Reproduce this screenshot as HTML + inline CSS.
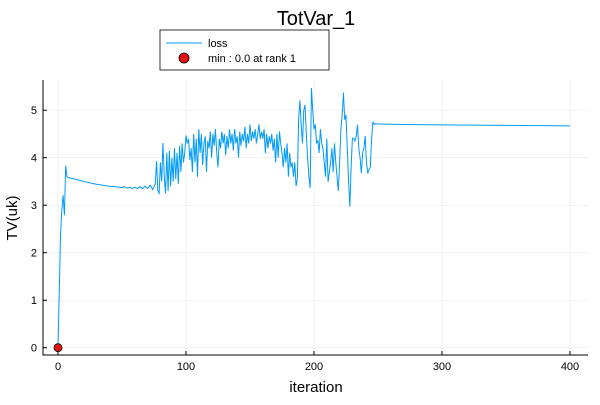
<!DOCTYPE html>
<html><head><meta charset="utf-8"><style>
body{margin:0;background:#fff}
svg{font-family:"Liberation Sans",sans-serif}
</style></head><body>
<svg id="chart" width="600" height="400" viewBox="0 0 600 400" xmlns="http://www.w3.org/2000/svg">
<rect width="600" height="400" fill="#fff"/>
<text x="316" y="25" font-size="20" text-anchor="middle" fill="#000">TotVar_1</text>
<g id="grid"></g>
<g id="axes"></g>
<path id="line" fill="none" stroke="#009af9" stroke-width="1"/>
<circle id="minpt" r="4" fill="#e90f0f" stroke="#000" stroke-width="0.8"/>
<text x="316" y="392" font-size="15" text-anchor="middle">iteration</text>
<text transform="translate(17,218) rotate(-90)" font-size="15" text-anchor="middle">TV(uk)</text>
<g>
<rect x="160" y="30" width="169" height="40" fill="#fff" stroke="#000" stroke-width="0.8"/>
<line x1="166" y1="43" x2="202" y2="43" stroke="#009af9" stroke-width="1"/>
<text x="208" y="47" font-size="11">loss</text>
<circle cx="184" cy="58" r="5" fill="#e90f0f" stroke="#000" stroke-width="0.8"/>
<text x="208" y="62" font-size="11">min : 0.0 at rank 1</text>
</g>
</svg>
<script>
const iters=[0,1,2,3,4,5,6,7,8,12,16,20,25,30,35,40,45,50,52,54,56,58,60,62,64,66,68,70,72,74,76,77,78,79,80,81,82,83,84,85,86,87,88,89,90,91,92,93,94,95,96,97,98,99,100,101,102,103,104,105,106,107,108,109,110,111,112,113,114,115,116,117,118,119,120,121,122,123,124,125,126,127,128,129,130,131,132,133,134,135,136,137,138,139,140,141,142,143,144,145,146,147,148,149,150,151,152,153,154,155,156,157,158,159,160,161,162,163,164,165,166,167,168,169,170,171,172,173,174,175,176,177,178,179,180,181,182,183,184,185,186,187,188,189,190,191,192,193,194,195,196,197,198,199,200,201,202,203,204,205,206,207,208,209,210,211,212,213,214,215,216,217,218,219,220,221,222,223,224,225,226,227,228,229,230,231,232,233,234,235,236,237,238,239,240,241,242,243,244,245,246,247,248,250,270,300,350,400];
const losses=[0,1.2,2.4,2.9,3.21,2.79,3.83,3.6,3.58,3.56,3.53,3.5,3.47,3.44,3.42,3.4,3.39,3.37,3.39,3.36,3.38,3.35,3.38,3.35,3.39,3.35,3.4,3.35,3.42,3.33,3.45,3.93,3.3,3.25,3.9,3.5,4.31,3.6,3.25,4.1,3.3,4.15,3.4,4.0,3.5,4.2,3.55,4.1,3.45,4.25,3.7,4.3,3.9,4.1,4.47,4.3,4.4,3.95,4.2,3.7,4.5,3.9,4.4,3.6,4.6,4.1,4.5,3.85,4.3,4.45,3.7,4.35,4.2,4.55,4.0,4.5,4.25,4.6,4.1,3.8,4.4,4.2,4.55,4.3,4.5,4.05,4.45,4.2,4.6,4.3,4.5,4.15,4.6,4.3,4.45,4.0,4.55,4.25,4.5,4.35,4.65,4.2,4.5,4.3,4.7,4.35,4.55,4.4,4.6,4.3,4.5,4.7,4.4,4.55,4.4,4.6,4.1,4.5,4.2,4.45,4.3,4.5,4.15,4.4,3.9,4.5,4.0,4.55,4.3,4.1,3.8,4.2,3.9,4.3,3.6,4.1,3.8,3.9,3.6,3.9,3.4,3.55,4.8,5.21,4.7,4.3,5.0,5.11,4.5,4.0,3.6,3.36,5.47,5.0,4.6,4.7,4.3,4.37,4.1,4.6,4.3,4.2,3.9,3.6,4.4,3.49,3.7,3.9,4.2,3.7,4.3,3.9,3.6,3.3,3.9,4.6,4.9,5.37,4.8,4.9,4.2,3.5,2.97,3.8,4.41,4.4,4.35,4.45,4.69,4.2,4.0,3.67,4.1,4.2,4.46,3.9,3.67,3.75,3.8,4.4,4.76,4.7,4.72,4.71,4.7,4.69,4.68,4.67];
const xTicks=[0,100,200,300,400];
const yTicks=[0,1,2,3,4,5];
const minIter=0, minVal=0;
const L=43,R=588,T=80,B=355;
const sx=v=>58+v*1.28;
const sy=v=>347.7-v*47.5;
const ns="http://www.w3.org/2000/svg";
const grid=document.getElementById('grid'), axes=document.getElementById('axes');
function mk(tag,attrs,parent){const e=document.createElementNS(ns,tag);for(const k in attrs)e.setAttribute(k,attrs[k]);parent.appendChild(e);return e;}
xTicks.forEach(t=>{
  const g=mk('line',{x1:sx(t),x2:sx(t),y1:T,y2:B,stroke:'#000','stroke-opacity':0.1,'stroke-width':0.5},grid);
  
  
  const tk=mk('line',{x1:sx(t),x2:sx(t),y1:B,y2:B-4,stroke:'#000','stroke-width':1},axes);
  
  
  const lb=mk('text',{x:sx(t),y:B+15,'font-size':11,'text-anchor':'middle'},axes);
  lb.textContent=t;
  
  
});
yTicks.forEach(t=>{
  const g=mk('line',{x1:L,x2:R,y1:sy(t),y2:sy(t),stroke:'#000','stroke-opacity':0.1,'stroke-width':0.5},grid);
  
  
  const tk=mk('line',{x1:L,x2:L+4,y1:sy(t),y2:sy(t),stroke:'#000','stroke-width':1},axes);
  
  
  const lb=mk('text',{x:L-6,y:sy(t)+4,'font-size':11,'text-anchor':'end'},axes);
  lb.textContent=t;
  
  
});
const ax=mk('path',{d:`M${L},${T}V${B}H${R}`,fill:'none',stroke:'#000','stroke-width':1},axes);


document.getElementById('line').setAttribute('d',iters.map((v,i)=>(i?'L':'M')+sx(v).toFixed(2)+','+sy(losses[i]).toFixed(2)).join(''));
const m=document.getElementById('minpt');m.setAttribute('cx',sx(minIter));m.setAttribute('cy',sy(minVal));
</script>
</body></html>
